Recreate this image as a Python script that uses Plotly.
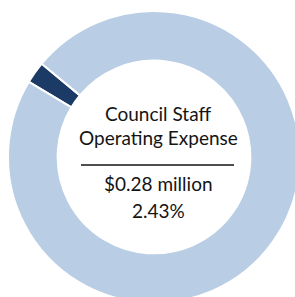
import plotly.graph_objects as go

labels = ["Council Staff Operating Expense", "Other"]
values = [2.43, 97.57]
colors = ["#1b3a66", "#b9cde4"]
title_lines = ["Council Staff", "Operating Expense"]
amount_text = "$0.28 million"
pct_text = "2.43%"

W, H = 308, 314
cx, cy, R = 154, 157, 146  # pixel centre (from top) and radius

fig = go.Figure(go.Pie(
    labels=labels, values=values, hole=0.66, sort=False,
    direction="clockwise", rotation=301,
    marker=dict(colors=colors, line=dict(color="white", width=2)),
    textinfo="none", hoverinfo="label+percent",
    domain=dict(x=[(cx - R) / W, (cx + R) / W], y=[(H - cy - R) / H, (H - cy + R) / H]),
    showlegend=False,
))

font = dict(family="Lato, 'Open Sans', sans-serif", size=19, color="#141414")

def ay(py):
    return (H - py) / H

fig.add_annotation(x=158 / W, y=ay(113), text=title_lines[0], showarrow=False, font=font, xanchor="center", yanchor="middle")
fig.add_annotation(x=158 / W, y=ay(137), text=title_lines[1], showarrow=False, font=font, xanchor="center", yanchor="middle")
fig.add_annotation(x=158 / W, y=ay(183), text=amount_text, showarrow=False, font=font, xanchor="center", yanchor="middle")
fig.add_annotation(x=158 / W, y=ay(210), text=pct_text, showarrow=False, font=font, xanchor="center", yanchor="middle")

# divider rule between the label and the value
fig.add_shape(type="line", xref="paper", yref="paper",
              x0=81 / W, x1=234 / W, y0=ay(165), y1=ay(165),
              line=dict(color="#141414", width=1.3))

fig.update_layout(width=W, height=H, margin=dict(l=0, r=0, t=0, b=0),
                  paper_bgcolor="white", plot_bgcolor="white")

fig.write_html("out.html", config={"displayModeBar": False},
               post_script="document.body.style.margin='0';document.body.style.overflow='hidden';")
